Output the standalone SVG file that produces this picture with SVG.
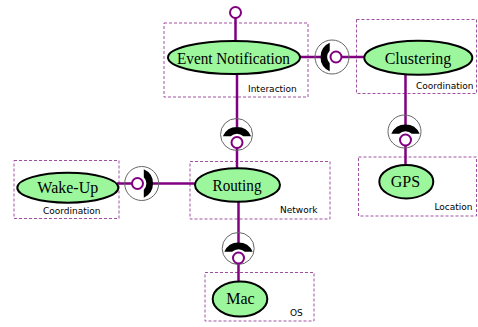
<svg xmlns="http://www.w3.org/2000/svg" width="478" height="327" viewBox="0 0 478 327">
<style>
.box{fill:none;stroke:#a050a0;stroke-width:1;stroke-dasharray:3 2}
.lbl{font-family:"DejaVu Sans",sans-serif;font-size:9px;fill:#000}
.wire{stroke:#800080;stroke-width:2.5;fill:none}
.node{fill:#9cf79c;stroke:#000;stroke-width:2}
.nt{font-family:"Liberation Serif",serif;font-size:16px;fill:#000;text-anchor:middle}
.ring{fill:none;stroke:#666;stroke-width:1}
.ball{fill:#fff;stroke:#800080;stroke-width:2}
</style>
<defs>
<g id="bs">
<path d="M-9,-2 A9 9 0 0 1 9,-2 Z" fill="#fff"/>
<path d="M-14.16,-6.3 A15.5 15.5 0 0 1 14.16,-6.3 L6.3,-6.3 A9 9 0 0 0 -6.3,-6.3 Z" fill="#000"/>
<circle cx="0" cy="0" r="5.5" class="ball"/>
</g>
</defs>
<g id="boxes">
<rect class="box" x="164" y="23" width="144" height="74"/>
<rect class="box" x="356.5" y="19.5" width="120" height="74"/>
<rect class="box" x="14" y="160.5" width="105" height="58"/>
<rect class="box" x="190" y="161.5" width="140" height="57.5"/>
<rect class="box" x="358.5" y="157" width="118" height="59"/>
<rect class="box" x="205" y="272.5" width="109" height="48.5"/>
<text class="lbl" x="248" y="91.5">Interaction</text>
<text class="lbl" x="416" y="88.5">Coordination</text>
<text class="lbl" x="43" y="213.5">Coordination</text>
<text class="lbl" x="280" y="212.5">Network</text>
<text class="lbl" x="434.5" y="209.5">Location</text>
<text class="lbl" x="290" y="315.5">OS</text>
</g>
<g id="connectors">
<line class="wire" x1="235.5" y1="18" x2="235.5" y2="42"/>
<circle class="ball" cx="235.5" cy="12.5" r="5.5" stroke-width="2.5"/>
<line class="wire" x1="237" y1="74" x2="237" y2="169"/>
<line class="wire" x1="300" y1="57" x2="365" y2="57"/>
<line class="wire" x1="117" y1="183.5" x2="196" y2="183.5"/>
<line class="wire" x1="405.5" y1="75" x2="405.5" y2="166"/>
<line class="wire" x1="238.5" y1="201" x2="238.5" y2="283"/>
<g id="sock1"><circle class="ring" cx="236.5" cy="134.5" r="16"/><use href="#bs" transform="translate(237,142.5)"/></g>
<g id="sock2"><circle class="ring" cx="332" cy="57" r="17"/><use href="#bs" transform="translate(336,57) rotate(-90)"/></g>
<g id="sock3"><circle class="ring" cx="141.7" cy="183.5" r="17"/><use href="#bs" transform="translate(137.5,183.5) rotate(90)"/></g>
<g id="sock4"><circle class="ring" cx="404.5" cy="131.5" r="16.5"/><use href="#bs" transform="translate(405.5,140)"/></g>
<g id="sock5"><circle class="ring" cx="238.2" cy="248.5" r="16"/><use href="#bs" transform="translate(238.5,258)"/></g>
</g>
<g id="event-notification"><ellipse class="node" cx="234" cy="57.5" rx="66" ry="16.5"/><text class="nt" x="233.5" y="64" textLength="113" lengthAdjust="spacingAndGlyphs">Event Notification</text></g>
<g id="clustering"><ellipse class="node" cx="418.3" cy="57.8" rx="54" ry="17"/><text class="nt" x="418" y="64">Clustering</text></g>
<g id="wake-up"><ellipse class="node" cx="67.8" cy="187.7" rx="50.5" ry="15"/><text class="nt" x="67.8" y="193">Wake-Up</text></g>
<g id="routing"><ellipse class="node" cx="237.5" cy="185" rx="42.5" ry="16.7"/><text class="nt" x="237" y="190.5" textLength="49" lengthAdjust="spacingAndGlyphs">Routing</text></g>
<g id="gps"><ellipse class="node" cx="406.3" cy="181.7" rx="27" ry="16.7"/><text class="nt" x="405.5" y="187.3">GPS</text></g>
<g id="mac"><ellipse class="node" cx="240" cy="299" rx="27.3" ry="17.5"/><text class="nt" x="240.5" y="304">Mac</text></g>
</svg>
